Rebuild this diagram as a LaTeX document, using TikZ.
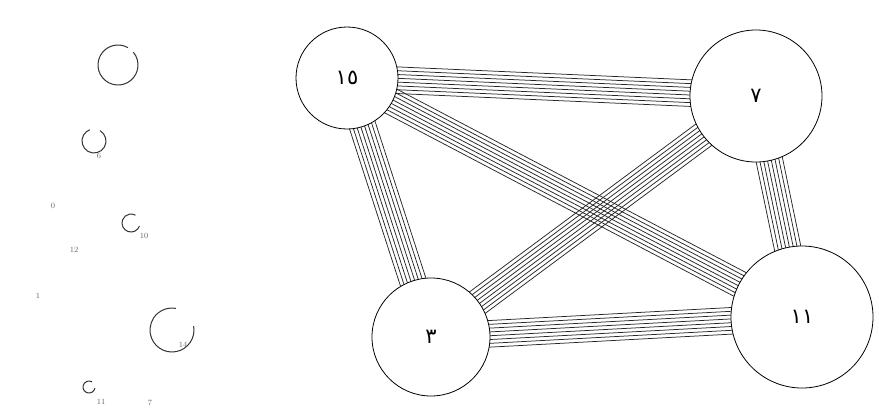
\documentclass[tikz,border=0pt]{standalone}
\usepackage{fontspec}
\newfontfamily\arabicfont[Script=Arabic]{DejaVu Sans}
\usetikzlibrary{calc,backgrounds}
\begin{document}
\begin{tikzpicture}[x=1pt, y=-1pt,
    every node/.style={circle, draw, fill=white, inner sep=0pt, line width=0.8pt},
    bignum/.style={font=\arabicfont\fontsize{21}{21}\selectfont},
    strand/.style={line width=0.75pt, black!85},
    ring/.style={draw=black!80, line width=1pt},
    tag/.style={draw=none, fill=none, text=black!60, font=\fontsize{8}{8}\selectfont}]
        \useasboundingbox (0,0) rectangle (879,418);
        % big circles
        \node[bignum, minimum size=102pt] (n15) at (347,78) {١٥};
        \node[bignum, minimum size=132pt] (n7) at (756,96) {٧};
        \node[bignum, minimum size=118pt] (n3) at (431,337) {٣};
        \node[bignum, minimum size=142pt] (n11) at (802,317) {١١};
        \begin{pgfonlayer}{background}
        \foreach \a/\b in {n15/n7, n15/n11, n15/n3, n7/n3, n7/n11, n3/n11}
            \foreach \k in {-3.5,-2.5,...,3.5}
                \draw[strand] ($(\a)!{\k*3.8pt}!90:(\b)$) -- ($(\b)!{\k*3.8pt}!-90:(\a)$);
        \end{pgfonlayer}
        % small rings on the left
        \draw[ring] (118,65) ++(-40:20) arc[start angle=-40, end angle=300, radius=20];
        \draw[ring] (94,141) ++(-60:12) arc[start angle=-60, end angle=250, radius=12];
        \draw[ring] (131,223) ++(20:9) arc[start angle=20, end angle=300, radius=9];
        \draw[ring] (172,330) ++(-10:22) arc[start angle=-10, end angle=280, radius=22];
        \draw[ring] (89,387) ++(10:6) arc[start angle=10, end angle=300, radius=6];
        \node[tag] (t6) at (99,156) {6};
        \node[tag] (t0) at (53,206) {0};
        \node[tag] (t12) at (74,250) {12};
        \node[tag] (t1) at (38,296) {1};
        \node[tag] (t10) at (144,236) {10};
        \node[tag] (t14) at (183,345) {14};
        \node[tag] (t11) at (101,402) {11};
        \node[tag] (t7) at (150,403) {7};
    \end{tikzpicture}
\end{document}
